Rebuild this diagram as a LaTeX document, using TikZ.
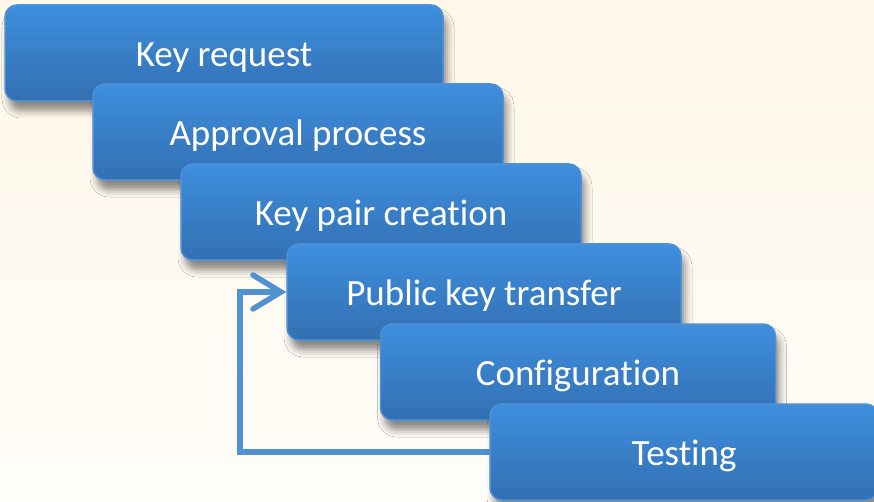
\documentclass[tikz,border=0pt]{standalone}
\usepackage{fontspec}
\setmainfont{Carlito}[RawFeature={-liga;-clig}]
\usetikzlibrary{shadows.blur,arrows.meta}

\definecolor{bgtop}{RGB}{255,247,232}
\definecolor{bgbot}{RGB}{255,253,249}
\definecolor{boxtop}{RGB}{62,143,222}
\definecolor{boxbot}{RGB}{51,111,178}
\definecolor{boxline}{RGB}{78,146,214}
\definecolor{loopline}{RGB}{80,145,210}

\tikzset{
  stagebox/.style={
    draw=boxline, line width=1.5pt, rounded corners=12pt,
    top color=boxtop, bottom color=boxbot,
    minimum height=96pt, inner sep=0pt,
    text height=27pt, text depth=0pt,
    text=white, font=\fontsize{37}{42}\selectfont,
    blur shadow={shadow xshift=4pt, shadow yshift=-10pt,
                 shadow blur radius=7pt, shadow opacity=45}
  },
  loopback/.style={
    draw=loopline, line width=5.5pt, line cap=round,
    -{Straight Barb[length=28pt,width=34pt,line cap=round]}
  }
}

\begin{document}
\begin{tikzpicture}[x=1pt,y=-1pt]
  % page background
  \fill[top color=bgtop, bottom color=bgbot] (0,0) rectangle (874,502);
  \useasboundingbox (0,0) rectangle (874,502);

  % cascading stages
  \node[stagebox, minimum width=438pt] (s1) at (224,53)  {Key request};
  \node[stagebox, minimum width=410pt] (s2) at (298,132) {Approval process};
  \node[stagebox, minimum width=400pt] (s3) at (381,212) {Key pair creation};
  \node[stagebox, minimum width=394pt] (s4) at (484,292) {Public key transfer};
  \node[stagebox, minimum width=395pt] (s5) at (578,372) {Configuration};

  % feedback loop from testing back to transfer
  \coordinate (corner) at (240,452);
  \draw[loopback] (510,452) -- (corner) |- (s4.west);

  \node[stagebox, minimum width=388pt] (s6) at (684,452) {Testing};
\end{tikzpicture}
\end{document}
